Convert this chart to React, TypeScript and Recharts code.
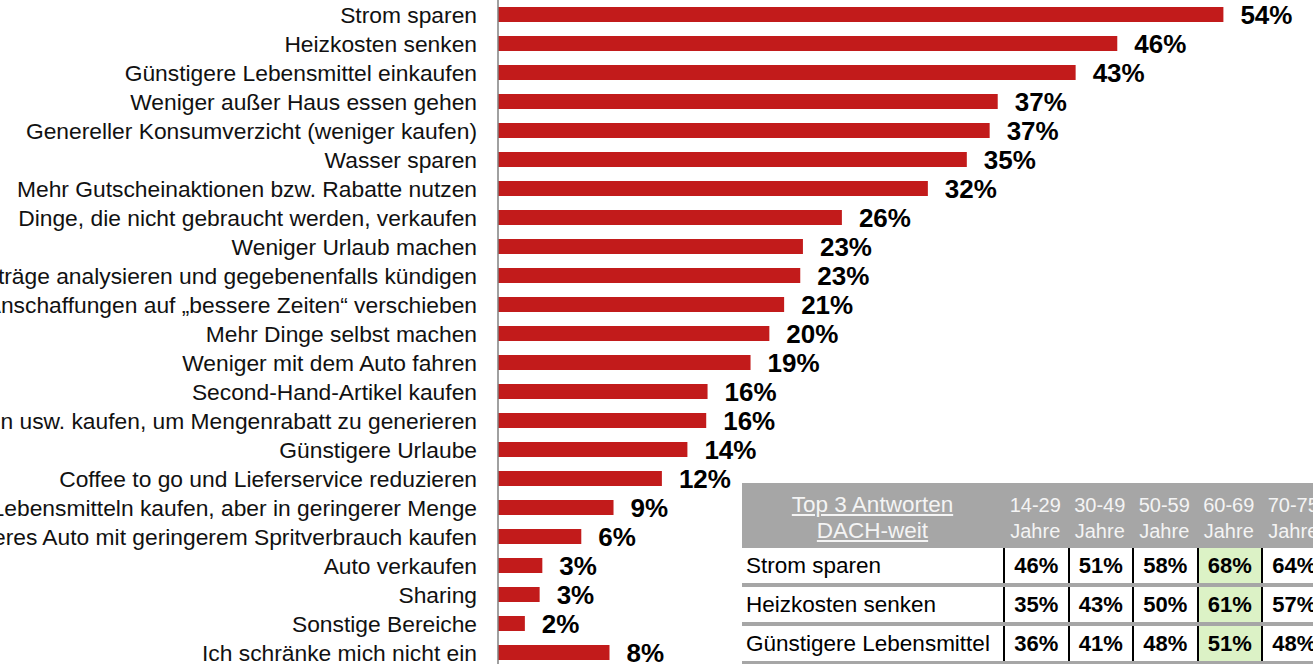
import { Bar, BarChart, LabelList, XAxis, YAxis } from "recharts";

const categories = [
  "Strom sparen",
  "Heizkosten senken",
  "Günstigere Lebensmittel einkaufen",
  "Weniger außer Haus essen gehen",
  "Genereller Konsumverzicht (weniger kaufen)",
  "Wasser sparen",
  "Mehr Gutscheinaktionen bzw. Rabatte nutzen",
  "Dinge, die nicht gebraucht werden, verkaufen",
  "Weniger Urlaub machen",
  "Verträge analysieren und gegebenenfalls kündigen",
  "Größere Anschaffungen auf „bessere Zeiten“ verschieben",
  "Mehr Dinge selbst machen",
  "Weniger mit dem Auto fahren",
  "Second-Hand-Artikel kaufen",
  "Großpackungen usw. kaufen, um Mengenrabatt zu generieren",
  "Günstigere Urlaube",
  "Coffee to go und Lieferservice reduzieren",
  "Gleiche Marken bei Lebensmitteln kaufen, aber in geringerer Menge",
  "Ein kleineres Auto mit geringerem Spritverbrauch kaufen",
  "Auto verkaufen",
  "Sharing",
  "Sonstige Bereiche",
  "Ich schränke mich nicht ein"
];

// share of respondents in %
const shares = [
  54, 46.1, 43, 37.2, 36.6, 34.9, 32, 25.6, 22.7, 22.5, 21.3, 20.2, 18.8,
  15.6, 15.5, 14.1, 12.2, 8.6, 6.2, 3.3, 3.1, 2.0, 8.3
];

// inset table: top 3 answers by age group
const tableAnswers = ["Strom sparen", "Heizkosten senken", "Günstigere Lebensmittel"];
const ageGroups = ["14-29", "30-49", "50-59", "60-69", "70-75"];
const stromByAge = [46, 51, 58, 68, 64];
const heizByAge = [35, 43, 50, 61, 57];
const lebensmittelByAge = [36, 41, 48, 51, 48];
const highlightedAge = "60-69";

const chartData = categories.map((name, i) => ({ name, share: shares[i] }));
const tableValues = [stromByAge, heizByAge, lebensmittelByAge];

const FONT = '"Liberation Sans", Arial, sans-serif';
const COL_W = 64.5;

function AgeTable() {
  return (
    <div
      style={{
        position: "absolute",
        left: 742,
        top: 483,
        width: 600,
        fontFamily: FONT,
        background: "#fff"
      }}
    >
      <div style={{ display: "flex", height: 65, background: "#A6A6A6", color: "#F4F4F4", fontSize: 20, lineHeight: "26px" }}>
        <div style={{ width: 261, textAlign: "center", paddingTop: 9, fontSize: 22.5, textDecoration: "underline", whiteSpace: "nowrap", boxSizing: "border-box" }}>
          Top 3 Antworten
          <br />
          DACH-weit
        </div>
        {ageGroups.map((age) => (
          <div key={age} style={{ width: COL_W, textAlign: "center", paddingTop: 9, whiteSpace: "nowrap", boxSizing: "border-box" }}>
            {age}
            <br />
            Jahre
          </div>
        ))}
      </div>
      {tableAnswers.map((answer, r) => (
        <div key={answer}>
          <div style={{ display: "flex", height: 35 }}>
            <div style={{ width: 261, paddingLeft: 4, fontSize: 22.5, lineHeight: "35px", whiteSpace: "nowrap", boxSizing: "border-box", color: "#000" }}>
              {answer}
            </div>
            {tableValues[r].map((v, c) => (
              <div
                key={c}
                style={{
                  width: COL_W,
                  borderLeft: "2px solid #000",
                  boxSizing: "border-box",
                  textAlign: "center",
                  fontWeight: "bold",
                  fontSize: 22,
                  lineHeight: "35px",
                  color: "#000",
                  background: ageGroups[c] === highlightedAge ? "#DCF2C6" : "#fff"
                }}
              >
                {v}%
              </div>
            ))}
          </div>
          <div style={{ height: 4, background: "#A6A6A6" }} />
        </div>
      ))}
    </div>
  );
}

export default function App() {
  return (
    <div
      style={{
        position: "absolute",
        left: 0,
        top: 0,
        width: 1313,
        height: 664,
        overflow: "hidden",
        background: "#fff"
      }}
    >
      <BarChart
        width={1313}
        height={667}
        layout="vertical"
        data={chartData}
        margin={{ top: 0, right: 9, bottom: 0, left: 0 }}
      >
        <XAxis type="number" domain={[0, 60]} hide />
        <YAxis
          dataKey="name"
          type="category"
          width={498}
          interval={0}
          tickLine={false}
          tickSize={0}
          tickMargin={21}
          axisLine={{ stroke: "#808080", strokeWidth: 1.5 }}
          tick={{ fill: "#111", fontSize: 22.8, fontFamily: FONT }}
        />
        <Bar dataKey="share" fill="#C21B1B" barSize={15} isAnimationActive={false}>
          <LabelList
            dataKey="share"
            position="right"
            offset={17}
            formatter={(v: number) => `${Math.round(v)}%`}
            fill="#000"
            fontSize={26}
            fontWeight="bold"
            fontFamily={FONT}
          />
        </Bar>
      </BarChart>
      <AgeTable />
    </div>
  );
}
